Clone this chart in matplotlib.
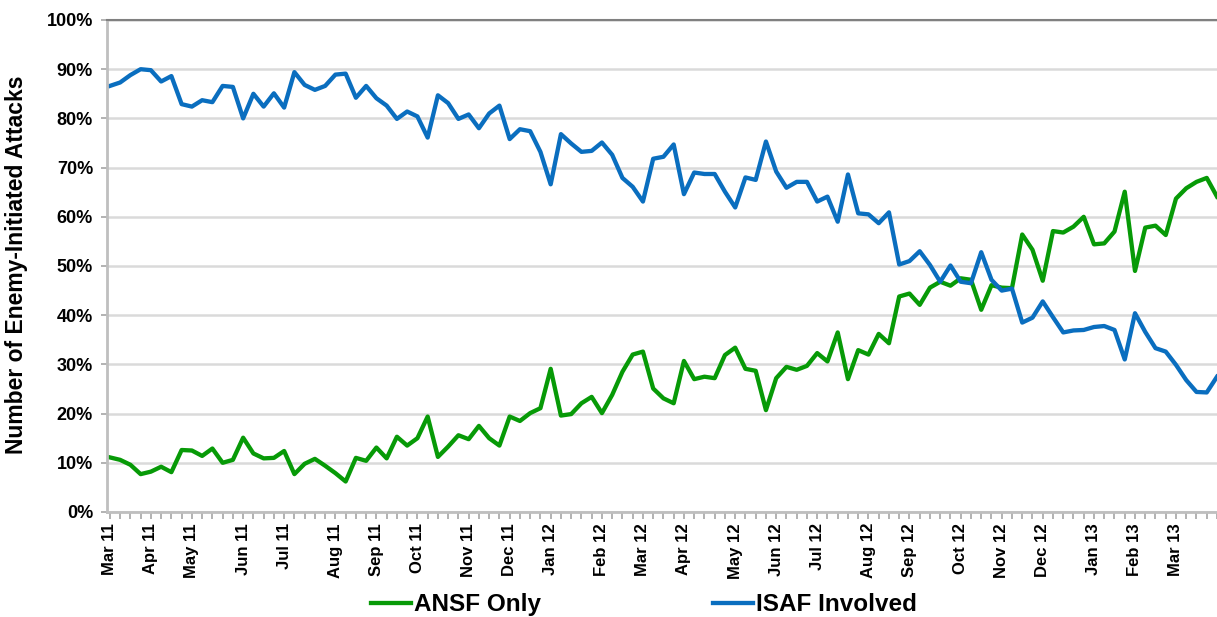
import matplotlib
matplotlib.use("Agg")
import matplotlib.pyplot as plt
import numpy as np
from matplotlib.ticker import FuncFormatter

# weekly share of enemy-initiated attacks (%), Mar 2011 - Apr 2013
ansf_only = [11.1, 10.6, 9.6, 7.7, 8.2, 9.2, 8.1, 12.6, 12.5, 11.4,
             12.9, 10.0, 10.6, 15.1, 11.9, 10.9, 11.0, 12.4, 7.7, 9.8,
             10.8, 9.4, 7.9, 6.2, 11.0, 10.4, 13.1, 10.9, 15.3, 13.5,
             15.0, 19.4, 11.2, 13.3, 15.6, 14.8, 17.5, 15.0, 13.5, 19.4,
             18.5, 20.1, 21.1, 29.1, 19.6, 19.9, 22.1, 23.4, 20.1, 23.8,
             28.5, 32.0, 32.6, 25.1, 23.1, 22.1, 30.7, 27.0, 27.5, 27.2,
             31.9, 33.4, 29.1, 28.7, 20.7, 27.2, 29.5, 28.9, 29.7, 32.3,
             30.6, 36.5, 27.0, 32.9, 32.0, 36.2, 34.3, 43.8, 44.4, 42.1,
             45.6, 46.8, 46.0, 47.5, 47.2, 41.1, 46.1, 45.6, 45.5, 56.4,
             53.3, 47.0, 57.1, 56.8, 58.0, 60.0, 54.4, 54.6, 57.0, 65.1,
             49.0, 57.8, 58.2, 56.3, 63.7, 65.8, 67.1, 67.9, 64.1]

isaf_involved = [86.6, 87.3, 88.8, 90.0, 89.8, 87.5, 88.6, 82.9, 82.4, 83.7,
                 83.3, 86.6, 86.4, 80.0, 85.0, 82.4, 85.1, 82.2, 89.4, 86.8,
                 85.8, 86.6, 88.9, 89.1, 84.2, 86.6, 84.1, 82.6, 79.9, 81.4,
                 80.4, 76.1, 84.7, 83.1, 79.9, 80.8, 78.0, 81.0, 82.6, 75.8,
                 77.8, 77.4, 73.2, 66.6, 76.8, 74.9, 73.2, 73.4, 75.1, 72.6,
                 67.9, 66.1, 63.1, 71.8, 72.2, 74.7, 64.6, 69.0, 68.7, 68.7,
                 65.1, 61.9, 68.0, 67.5, 75.3, 69.2, 65.9, 67.1, 67.1, 63.1,
                 64.1, 59.0, 68.6, 60.7, 60.5, 58.7, 60.9, 50.3, 51.0, 53.0,
                 50.2, 46.8, 50.1, 46.8, 46.5, 52.8, 47.2, 45.0, 45.4, 38.5,
                 39.5, 42.8, 39.6, 36.5, 36.9, 37.0, 37.6, 37.8, 37.0, 31.0,
                 40.4, 36.6, 33.3, 32.6, 29.9, 26.8, 24.4, 24.3, 27.5]

month_labels = ['Mar 11', 'Apr 11', 'May 11', 'Jun 11', 'Jul 11', 'Aug 11',
                'Sep 11', 'Oct 11', 'Nov 11', 'Dec 11', 'Jan 12', 'Feb 12',
                'Mar 12', 'Apr 12', 'May 12', 'Jun 12', 'Jul 12', 'Aug 12',
                'Sep 12', 'Oct 12', 'Nov 12', 'Dec 12', 'Jan 13', 'Feb 13',
                'Mar 13']
month_weeks = [0, 4, 8, 13, 17, 22, 26, 30, 35, 39, 43, 48, 52, 56, 61, 65,
               69, 74, 78, 83, 87, 91, 96, 100, 104]

plt.rcParams['font.family'] = ['Liberation Sans', 'DejaVu Sans']
plt.rcParams['font.weight'] = 'bold'

green = '#079A07'
blue = '#0A6EBF'

fig = plt.figure(figsize=(12.17, 6.17), dpi=100)
ax = fig.add_axes([107 / 1217, 1 - 512 / 617, 1110 / 1217, 492 / 617])

weeks = np.arange(len(ansf_only))
ax.plot(weeks, ansf_only, color=green, lw=3.1, label='ANSF Only')
ax.plot(weeks, isaf_involved, color=blue, lw=3.1, label='ISAF Involved')

ax.set_ylim(0, 100)
ax.set_yticks(np.arange(0, 101, 10))
ax.yaxis.set_major_formatter(FuncFormatter(lambda v, p: '%d%%' % v))
ax.set_xlim(-0.28, 108)
ax.set_xticks(month_weeks)
ax.set_xticklabels(month_labels, rotation=90)
ax.set_xticks(weeks, minor=True)

ax.tick_params(axis='y', labelsize=13, length=4, width=1.2, color='#A6A6A6', pad=6)
ax.tick_params(axis='x', which='both', labelsize=12, length=5, width=1.2,
               color='#A6A6A6', pad=3)
ax.grid(axis='y', color='#DADADA', lw=1.8)
ax.set_axisbelow(True)

ax.spines['right'].set_visible(False)
ax.spines['top'].set_color('#808080')
ax.spines['top'].set_linewidth(1.5)
for s in ['left', 'bottom']:
    ax.spines[s].set_color('#BFBFBF')
    ax.spines[s].set_linewidth(2)

fig.text(17 / 1217, 1 - 265 / 617, 'Number of Enemy-Initiated Attacks',
         rotation=90, ha='center', va='center', fontsize=16.5)

handles, labels = ax.get_legend_handles_labels()
fig.legend(handles, labels, loc='center', bbox_to_anchor=(0.529, 0.02), ncol=2,
           frameon=False, fontsize=17.5, handlelength=1.65, handletextpad=0.12,
           columnspacing=7.1)

fig.savefig('out.png', dpi=100)
